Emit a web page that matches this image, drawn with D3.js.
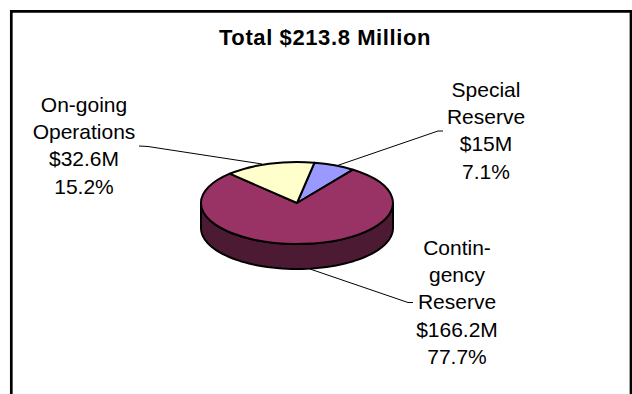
<!DOCTYPE html>
<html><head><meta charset="utf-8">
<script src="https://cdn.jsdelivr.net/npm/d3@7/dist/d3.min.js"></script>
<style>html,body{margin:0;padding:0;background:#fff}svg{display:block}text{font-family:"Liberation Sans",Arial,sans-serif;fill:#000}</style>
</head><body><svg id="c" width="632" height="394"></svg>
<script>
// Reserve breakdown, in millions of dollars
const categories = ["Special Reserve", "Contingency Reserve", "On-going Operations"];
const values = [15, 166.2, 32.6];
const colors = ["#9999ff", "#993366", "#ffffcc"];
const sideColor = "#4d1a33";
const titleText = "Total $213.8 Million";
const labelLines = [
  ["Special", "Reserve", "$15M", "7.1%"],
  ["Contin-", "gency", "Reserve", "$166.2M", "77.7%"],
  ["On-going", "Operations", "$32.6M", "15.2%"]
];

const svg = d3.select("#c");
const cx = 297, cy = 203, rx = 96, ry = 41, depth = 25;
const startDeg = 10.5;

// Unit-circle angle mapped to screen through the tilted ellipse
const sx = d3.scaleLinear().domain([-1, 1]).range([cx - rx, cx + rx]);
const sy = d3.scaleLinear().domain([-1, 1]).range([cy - ry, cy + ry]);
const onRim = (a, drop = 0) => [sx(Math.sin(a)), sy(-Math.cos(a)) + drop];

// Frame, open along the bottom edge
svg.append("path").attr("d", "M11.3,394V11.3H631V394").attr("fill", "none").attr("stroke", "#000").attr("stroke-width", 2.7);

svg.append("text").attr("x", 325).attr("y", 45).attr("text-anchor", "middle")
  .attr("font-weight", "bold").attr("font-size", 22).attr("letter-spacing", 0.6).text(titleText);

const pie = d3.pie().sort(null).value(d => d)
  .startAngle(startDeg * Math.PI / 180).endAngle(startDeg * Math.PI / 180 + 2 * Math.PI);
const arcs = pie(values);
const line = d3.line();

// Leader lines sit behind the pie
const leaders = [
  [[336, 166], [438, 131], [443, 131]],
  [[310, 269], [408, 302.5], [413, 302.5]],
  [[262, 164], [148, 146.5], [139, 146]]
];
svg.selectAll(".leader").data(leaders).join("path").attr("class", "leader")
  .attr("d", line).attr("fill", "none").attr("stroke", "#000").attr("stroke-width", 1);

// Visible front wall of each slice that crosses the lower half of the ellipse
const sideGroup = svg.append("g");
arcs.forEach((d, i) => {
  const from = Math.max(d.startAngle, Math.PI / 2), to = Math.min(d.endAngle, 3 * Math.PI / 2);
  if (from >= to) return;
  const steps = d3.range(0, 61).map(k => from + (to - from) * k / 60);
  const pts = steps.map(a => onRim(a)).concat(steps.slice().reverse().map(a => onRim(a, depth)));
  sideGroup.append("path").attr("d", line(pts) + "Z")
    .attr("fill", sideColor).attr("stroke", "#000").attr("stroke-width", 2).attr("stroke-linejoin", "round");
});

// Top face of the pie
const arc = d3.arc().innerRadius(0).outerRadius(1);
svg.append("g").attr("transform", `translate(${cx},${cy}) scale(${rx},${ry})`)
  .selectAll("path").data(arcs).join("path")
  .attr("d", arc).attr("fill", (d, i) => colors[i])
  .attr("stroke", "#000").attr("stroke-width", 2).attr("stroke-linejoin", "round")
  .attr("vector-effect", "non-scaling-stroke");

// Multi-line slice labels
const labelPos = [[486, 97], [457, 255], [84, 112]];
const lineStep = 27.2;
labelLines.forEach((lines, i) => {
  const t = svg.append("text").attr("text-anchor", "middle").attr("font-size", 21);
  lines.forEach((s, k) => t.append("tspan").attr("x", labelPos[i][0]).attr("y", labelPos[i][1] + k * lineStep).text(s));
});
</script></body></html>
